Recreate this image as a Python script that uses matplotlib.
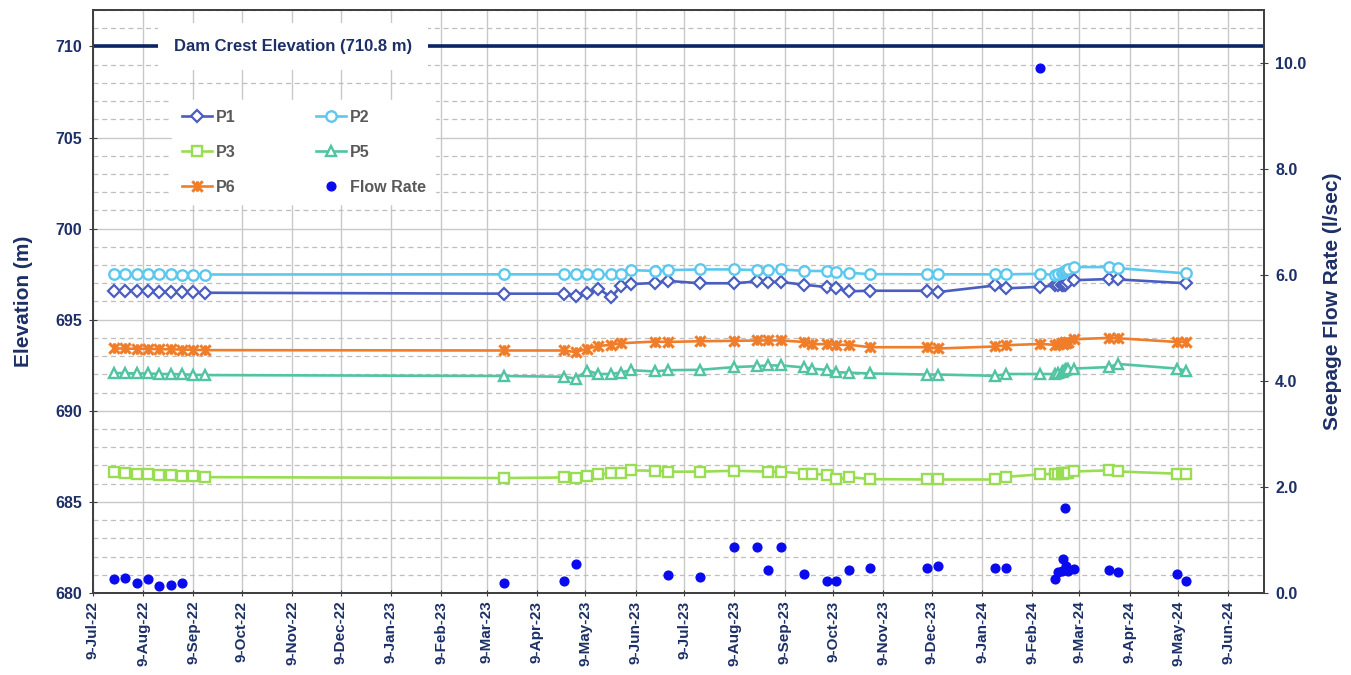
import matplotlib
matplotlib.use('Agg')
import matplotlib.pyplot as plt
import matplotlib.dates as mdates
import matplotlib.transforms as mtransforms
from matplotlib.path import Path
from matplotlib.ticker import MultipleLocator, FormatStrFormatter, FuncFormatter
import numpy as np
import pandas as pd

plt.rcParams['font.family'] = ['Liberation Sans', 'DejaVu Sans']
plt.rcParams['font.weight'] = 'bold'

nan = np.nan

dates = pd.to_datetime([
    '2022-07-22', '2022-07-29', '2022-08-05', '2022-08-12', '2022-08-19', '2022-08-26', '2022-09-02', '2022-09-09', '2022-09-16',
    '2023-03-20', '2023-04-26', '2023-05-03', '2023-05-10', '2023-05-17', '2023-05-25', '2023-05-31', '2023-06-06', '2023-06-21', '2023-06-29',
    '2023-07-19', '2023-08-09', '2023-08-23', '2023-08-30', '2023-09-07', '2023-09-21', '2023-09-26', '2023-10-05', '2023-10-11', '2023-10-19', '2023-11-01',
    '2023-12-06', '2023-12-13', '2024-01-17', '2024-01-24', '2024-02-14',
    '2024-02-23', '2024-02-25', '2024-02-27', '2024-02-28', '2024-02-29', '2024-03-01', '2024-03-02', '2024-03-06',
    '2024-03-27', '2024-04-02', '2024-05-08', '2024-05-14'])

p1 = [696.59, 696.59, 696.57, 696.55, 696.52, 696.52, 696.50, 696.50, 696.48,
      696.43, 696.43, 696.32, 696.45, 696.70, 696.24, 696.84, 696.95, 697.02, 697.13,
      697.00, 697.00, 697.10, 697.07, 697.07, 696.92, nan, 696.79, 696.72, 696.56, 696.59,
      696.59, 696.52, 696.88, 696.72, 696.81,
      696.88, 696.88, 696.90, 696.88, 696.90, 696.95, 697.07, 697.17,
      697.23, 697.21, nan, 697.00]

p2 = [697.50, 697.50, 697.50, 697.50, 697.49, 697.49, 697.48, 697.48, 697.48,
      697.49, 697.49, 697.49, 697.49, 697.49, 697.49, 697.52, 697.72, 697.68, 697.72,
      697.76, 697.76, 697.72, 697.72, 697.76, 697.68, nan, 697.67, 697.61, 697.57, 697.50,
      697.49, 697.49, 697.49, 697.49, 697.52,
      697.45, 697.50, 697.57, 697.62, 697.67, 697.72, 697.79, 697.89,
      697.89, 697.83, nan, 697.54]

p3 = [686.63, 686.58, 686.55, 686.51, 686.47, 686.45, 686.42, 686.42, 686.36,
      686.31, 686.34, 686.29, 686.42, 686.51, 686.56, 686.60, 686.73, 686.71, 686.66,
      686.66, 686.71, nan, 686.66, 686.66, 686.55, 686.55, 686.49, 686.23, 686.36, 686.25,
      686.23, 686.23, 686.23, 686.38, 686.51,
      686.55, 686.55, 686.57, 686.55, 686.58, 686.60, 686.60, 686.67,
      686.73, 686.67, 686.55, 686.55]

p5 = [692.07, 692.07, 692.05, 692.05, 692.02, 692.02, 692.00, 691.98, 691.96,
      691.91, 691.87, 691.76, 692.21, 692.02, 692.02, 692.10, 692.23, 692.16, 692.23,
      692.25, 692.40, 692.45, 692.49, 692.49, 692.38, 692.31, 692.25, 692.12, 692.09, 692.05,
      691.99, 691.99, 691.92, 692.02, 692.02,
      692.02, 692.07, 692.12, 692.20, 692.25, 692.27, 692.29, 692.32,
      692.40, 692.57, 692.32, 692.20]

p6 = [693.42, 693.42, 693.40, 693.40, 693.38, 693.38, 693.36, 693.35, 693.33,
      693.31, 693.31, 693.22, 693.40, 693.56, 693.62, 693.71, nan, 693.80, 693.78,
      693.82, 693.84, 693.86, 693.86, 693.86, 693.78, 693.66, 693.66, 693.62, 693.62, 693.49,
      693.49, 693.42, 693.53, 693.60, 693.67,
      693.62, 693.68, 693.72, 693.65, 693.75, 693.70, 693.78, 693.93,
      694.00, 693.98, 693.78, 693.78]

flow = [0.26, 0.29, 0.19, 0.26, 0.14, 0.15, 0.18, nan, nan,
        0.18, 0.23, 0.54, nan, nan, nan, nan, nan, nan, 0.33,
        0.31, 0.87, 0.87, 0.44, 0.87, 0.36, nan, 0.22, 0.22, 0.43, 0.48,
        0.48, 0.50, 0.48, 0.48, 9.90,
        0.26, 0.39, 0.41, 0.65, 1.61, 0.50, 0.41, 0.46,
        0.43, 0.40, 0.36, 0.23]

dam_crest_level = 710.0
dam_crest_label = 'Dam Crest Elevation (710.8 m)'
x_range = pd.to_datetime(['2022-07-09', '2024-07-01'])
elev_range = (680, 712)
flow_range = (0, 11)

NAVY = '#1C2F66'
GRAY_TXT = '#595959'
SPINE = '#404040'

# Excel-style "star" marker: X with a vertical bar
star_marker = Path([(-1, -1), (1, 1), (-1, 1), (1, -1), (0, -1), (0, 1)],
                   [Path.MOVETO, Path.LINETO, Path.MOVETO, Path.LINETO, Path.MOVETO, Path.LINETO])

fig = plt.figure(figsize=(13.51, 6.75), dpi=100)
ax = fig.add_axes([0.0688, 0.1215, 0.8668, 0.8637])
ax2 = ax.twinx()


def series(axis, vals, **kw):
    v = np.asarray(vals, dtype=float)
    m = ~np.isnan(v)
    return axis.plot(dates[m], v[m], **kw)[0]


lw = 1.9
h1 = series(ax, p1, color='#4A5EC0', lw=lw, marker='D', ms=6, mfc='white', mec='#4A5EC0', mew=1.6, label='P1', zorder=4)
h2 = series(ax, p2, color='#5CC8EE', lw=lw, marker='o', ms=7.5, mfc='white', mec='#5CC8EE', mew=1.7, label='P2', zorder=4)
h3 = series(ax, p3, color='#99DD52', lw=lw, marker='s', ms=7.5, mfc='white', mec='#99DD52', mew=1.7, label='P3', zorder=4)
h5 = series(ax, p5, color='#52C4A2', lw=lw, marker='^', ms=7.5, mfc='white', mec='#52C4A2', mew=1.7, label='P5', zorder=4)
h6 = series(ax, p6, color='#F07D2A', lw=lw, marker=star_marker, ms=7.5, mec='#F07D2A', mew=2.2, label='P6', zorder=4)
hf = series(ax2, flow, color='#0A0AEE', lw=0, marker='o', ms=6.3, label='Flow Rate', zorder=5)

# dam crest
ax.axhline(dam_crest_level, color='#0B2463', lw=2.6, zorder=3)
trans = mtransforms.blended_transform_factory(ax.transAxes, ax.transData)
ax.text(0.1708, dam_crest_level, dam_crest_label, transform=trans, ha='center', va='center',
        fontsize=12, fontweight='bold', color=NAVY, zorder=6,
        bbox=dict(boxstyle='square,pad=0.95', fc='white', ec='none'))

ax.set_xlim(x_range[0], x_range[1])
ax.set_ylim(*elev_range)
ax2.set_ylim(*flow_range)

ax.xaxis.set_major_locator(mdates.MonthLocator(bymonthday=9))
ax.xaxis.set_major_formatter(FuncFormatter(lambda v, p: '{}-{}'.format(mdates.num2date(v).day, mdates.num2date(v).strftime('%b-%y'))))
ax.yaxis.set_major_locator(MultipleLocator(5))
ax.yaxis.set_minor_locator(MultipleLocator(1))
ax2.yaxis.set_major_locator(MultipleLocator(2))
ax2.yaxis.set_major_formatter(FormatStrFormatter('%.1f'))

ax.set_axisbelow(True)
ax.grid(True, which='major', axis='both', color='#C8C8C8', lw=1.0, ls='-')
ax.grid(True, which='minor', axis='y', color='#BEBEBE', lw=0.9, ls=(0, (4, 3)))

ax.tick_params(axis='x', which='major', labelsize=11, labelcolor=NAVY, color=SPINE, length=5, direction='inout', pad=3)
ax.tick_params(axis='y', which='major', labelsize=11.5, labelcolor=NAVY, color=SPINE, length=6, direction='inout', pad=5)
ax.tick_params(axis='y', which='minor', length=0)
ax2.tick_params(axis='y', which='major', labelsize=11.5, labelcolor=NAVY, color=SPINE, length=6, direction='inout', pad=5)
plt.setp(ax.get_xticklabels(), rotation=90, fontweight='bold')
plt.setp(ax.get_yticklabels(), fontweight='bold')
plt.setp(ax2.get_yticklabels(), fontweight='bold')

for a in (ax, ax2):
    for s in a.spines.values():
        s.set_color(SPINE)
        s.set_linewidth(1.3)

ax.set_ylabel('Elevation (m)', fontsize=15, fontweight='bold', color=NAVY, labelpad=16)
ax2.set_ylabel('Seepage Flow Rate (l/sec)', fontsize=15, fontweight='bold', color=NAVY, labelpad=12)

handles = [h1, h3, h6, h2, h5, hf]
leg = ax2.legend(handles=handles, labels=[h.get_label() for h in handles], ncol=2,
                 loc='upper left', bbox_to_anchor=(0.0675, 0.8456), borderaxespad=0,
                 frameon=True, fancybox=False, framealpha=1.0, facecolor='white', edgecolor='white',
                 prop={'size': 11.5, 'weight': 'bold'}, handlelength=1.9, handletextpad=0.25,
                 columnspacing=5.0, labelspacing=1.25, borderpad=0.6)
for t in leg.get_texts():
    t.set_color(GRAY_TXT)
leg.set_zorder(10)

fig.savefig('out.png', dpi=100)
